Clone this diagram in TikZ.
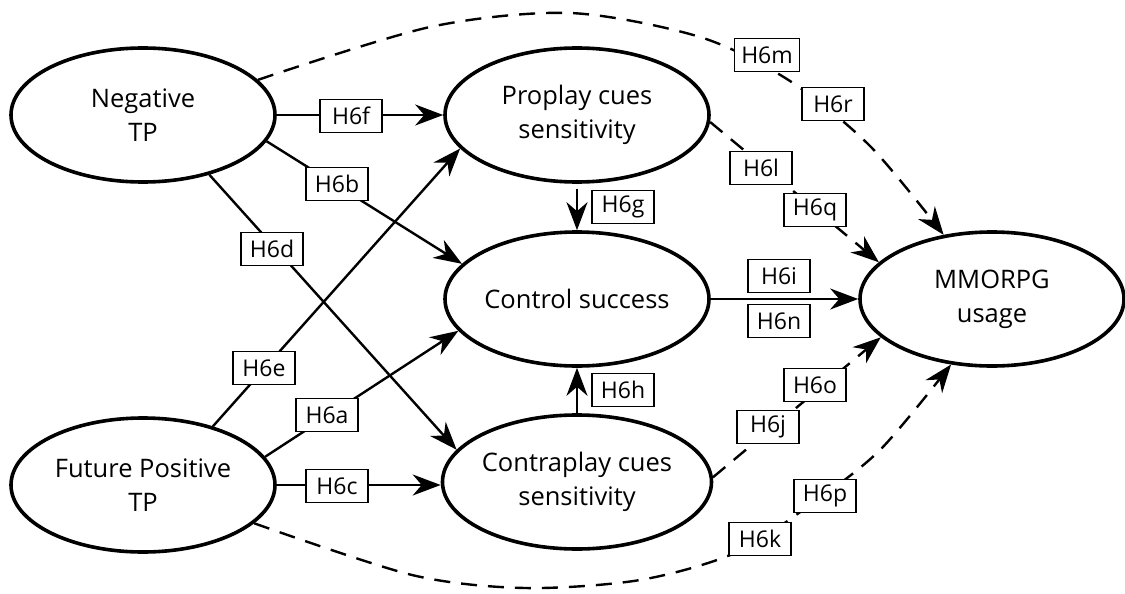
\documentclass[tikz,border=0pt]{standalone}
\usepackage{fontspec}
\setmainfont{Open Sans}
\usetikzlibrary{arrows.meta,shapes.geometric}

\begin{document}
\begin{tikzpicture}[x=1pt,y=-1pt,
  construct/.style={ellipse, draw, line width=3.6pt, minimum width=264pt,
    minimum height=134pt, inner sep=0pt, align=center,
    font=\fontsize{25.5}{34}\selectfont},
  link/.style={line width=2.4pt, -{Stealth[length=28pt,width=21pt,inset=9pt]}},
  dlink/.style={link, dash pattern=on 16pt off 11pt},
  hyp/.style={draw, line width=1.3pt, fill=white, minimum width=62pt,
    minimum height=33pt, inner xsep=7pt, inner ysep=0pt,
    font=\fontsize{23}{27}\selectfont}
]
\useasboundingbox (0,0) rectangle (1125,594);

% constructs
\node[construct] (neg) at (143,115) {Negative\\TP};
\node[construct] (pro) at (577,115) {Proplay cues\\sensitivity};
\node[construct] (ctl) at (577,299) {Control success};
\node[construct] (con) at (577,482) {Contraplay cues\\sensitivity};
\node[construct] (fut) at (143,485) {Future Positive\\TP};
\node[construct] (mm)  at (992,299) {MMORPG\\usage};

% direct paths
\draw[link] (neg) -- (pro);
\draw[link] (neg.-12) -- (ctl.163);
\draw[link] (neg.-42) -- (con.165);
\draw[link] (fut.40) -- (pro.196);
\draw[link] (fut.13) -- (ctl.195);
\draw[link] (fut.east) -- (fut.east -| con.west);
\draw[link, shorten <=5pt] (pro.south) -- (ctl.north);
\draw[link] (con.north) -- (ctl.south);
\draw[link] (ctl) -- (mm);

% indirect paths
\draw[dlink] (pro.-3) -- (mm.162);
\draw[dlink] (con.2) -- (mm.199);
\draw[dlink] plot[smooth] coordinates {(neg.17) (430,27) (570,13) (700,37)
  (790,81) (870,146) (mm.127)};
\draw[dlink] plot[smooth] coordinates {(fut.-19) (412,575) (525,588) (640,580)
  (735,553) (810,505) (880,450) (mm.-122)};

% hypothesis labels
\node[hyp] (h6f) at (351,116) {H6f};
\node[hyp] (h6b) at (337,184) {H6b};
\node[hyp] (h6d) at (272,249) {H6d};
\node[hyp] (h6e) at (264,368) {H6e};
\node[hyp] (h6a) at (327,415) {H6a};
\node[hyp] (h6c) at (337,486) {H6c};
\node[hyp] (h6g) at (623,207) {H6g};
\node[hyp] (h6h) at (623,390) {H6h};
\node[hyp] (h6i) at (779,276) {H6i};
\node[hyp] (h6n) at (779,321) {H6n};
\node[hyp] (h6l) at (761,168) {H6l};
\node[hyp] (h6q) at (815,210) {H6q};
\node[hyp] (h6o) at (815,385) {H6o};
\node[hyp] (h6j) at (768,427) {H6j};
\node[hyp] (h6m) at (767,55) {H6m};
\node[hyp] (h6r) at (833,104) {H6r};
\node[hyp] (h6p) at (825,496) {H6p};
\node[hyp] (h6k) at (760,539) {H6k};
\end{tikzpicture}
\end{document}
